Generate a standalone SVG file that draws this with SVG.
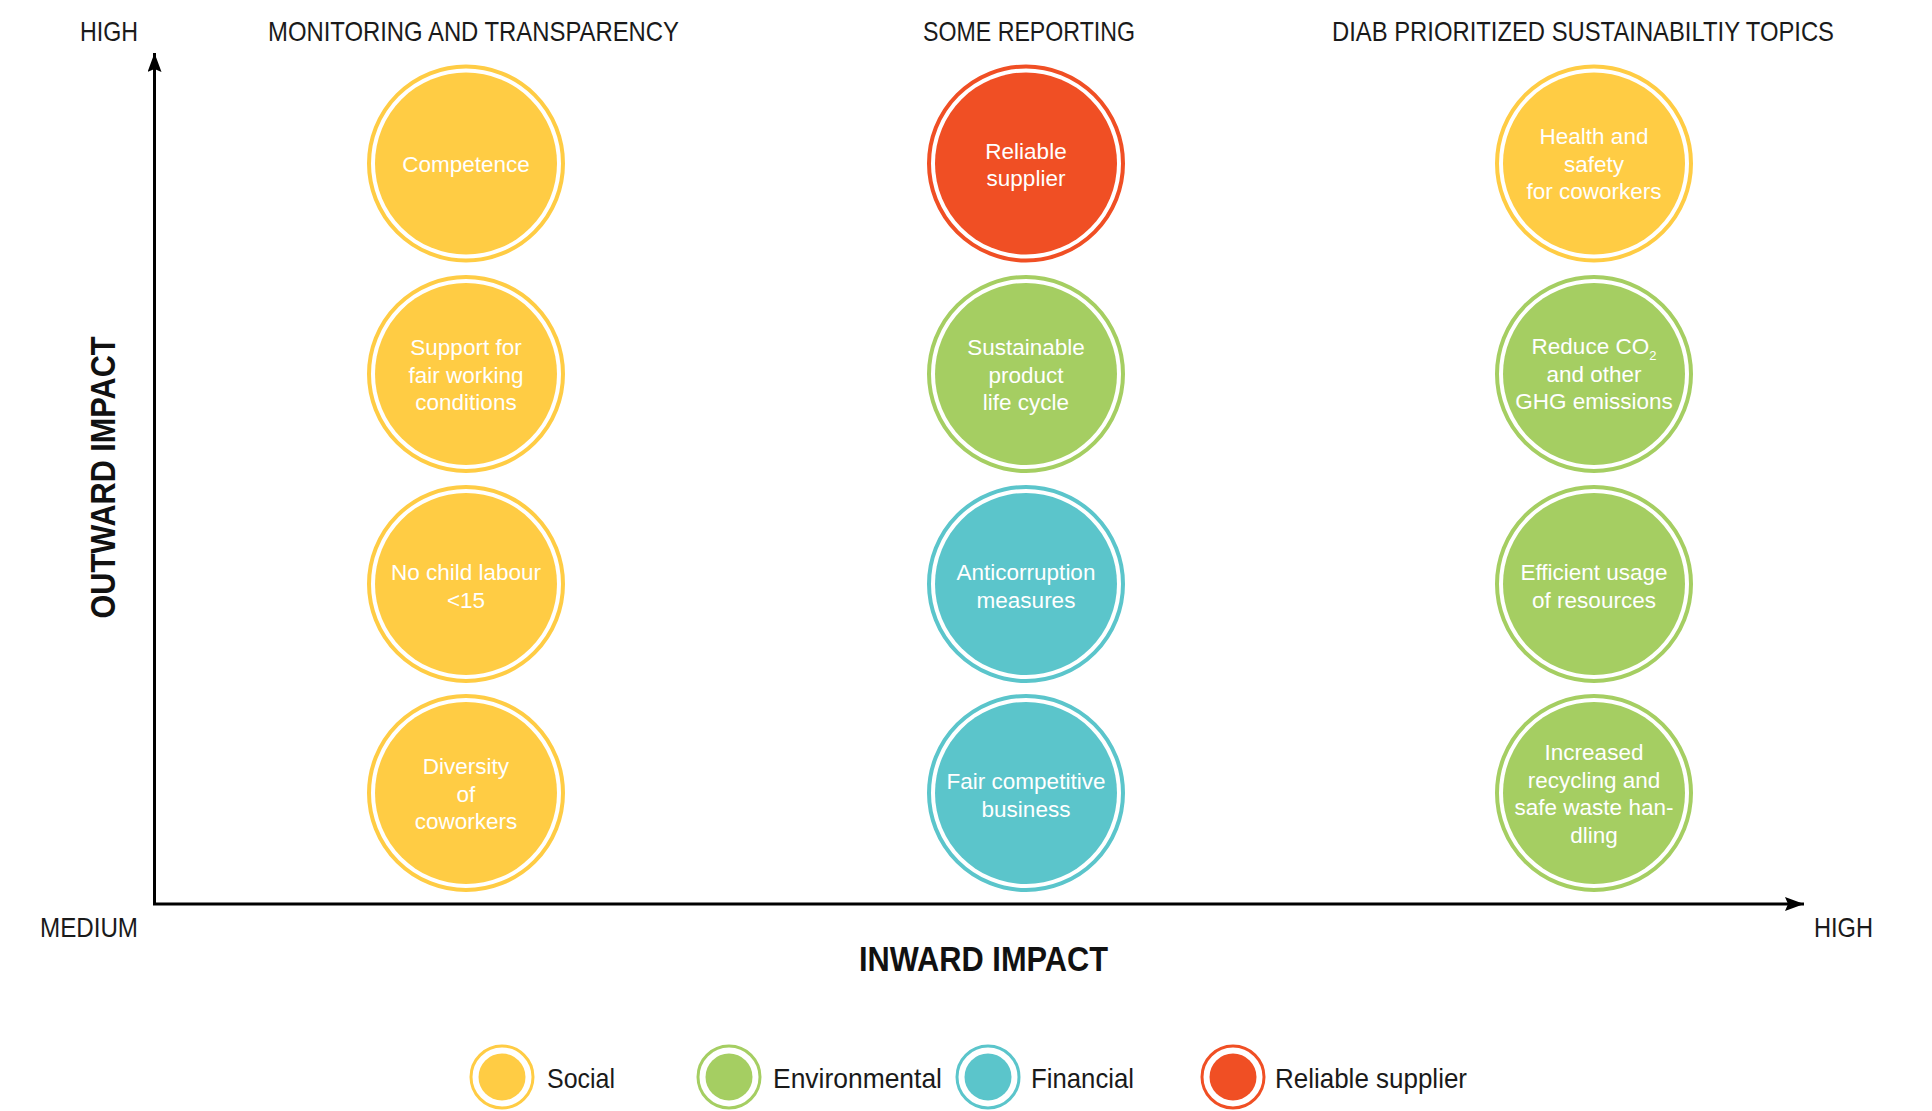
<svg xmlns="http://www.w3.org/2000/svg" width="1932" height="1111" viewBox="0 0 1932 1111">
<style>
.hdr{font-family:"Liberation Sans",Arial,sans-serif;font-size:28px;fill:#1a1a1a;}
.ttl{font-family:"Liberation Sans",Arial,sans-serif;font-size:35px;font-weight:bold;fill:#111;}
.lbl{font-family:"Liberation Sans",Arial,sans-serif;font-size:22.5px;fill:#fff;text-anchor:middle;}
.leg{font-family:"Liberation Sans",Arial,sans-serif;font-size:28px;fill:#1a1a1a;}
.ring{fill:none;stroke-width:4;}
.lring{fill:none;stroke-width:3;}
.soc .ring,.soc .lring{stroke:#FFCC44;} .soc .fill{fill:#FFCC44;}
.env .ring,.env .lring{stroke:#A5CE62;} .env .fill{fill:#A5CE62;}
.fin .ring,.fin .lring{stroke:#5BC5CB;} .fin .fill{fill:#5BC5CB;}
.rel .ring,.rel .lring{stroke:#F04F24;} .rel .fill{fill:#F04F24;}
.axis{stroke:#000;stroke-width:3;fill:none;}
</style>
<defs>
<marker id="arr" markerUnits="userSpaceOnUse" markerWidth="20" markerHeight="15" refX="19" refY="7" orient="auto">
<path d="M0,0 L19,7 L0,14 L3,7 z" fill="#000"/>
</marker>
</defs>
<rect width="1932" height="1111" fill="#fff"/>

<g id="headers">
<text class="hdr" x="80" y="41" textLength="58" lengthAdjust="spacingAndGlyphs">HIGH</text>
<text class="hdr" x="268" y="41" textLength="411" lengthAdjust="spacingAndGlyphs">MONITORING AND TRANSPARENCY</text>
<text class="hdr" x="923" y="41" textLength="212" lengthAdjust="spacingAndGlyphs">SOME REPORTING</text>
<text class="hdr" x="1332" y="41" textLength="502" lengthAdjust="spacingAndGlyphs">DIAB PRIORITIZED SUSTAINABILTIY TOPICS</text>
<text class="hdr" x="40" y="937" textLength="98" lengthAdjust="spacingAndGlyphs">MEDIUM</text>
<text class="hdr" x="1814" y="937" textLength="59" lengthAdjust="spacingAndGlyphs">HIGH</text>
<text class="ttl" x="859" y="971" textLength="249" lengthAdjust="spacingAndGlyphs">INWARD IMPACT</text>
<text class="ttl" transform="translate(115,477.5) rotate(-90)" x="0" y="0" text-anchor="middle" textLength="282" lengthAdjust="spacingAndGlyphs">OUTWARD IMPACT</text>
</g>

<g id="connectors">
<path class="axis" d="M154.5,904 L154.5,53" marker-end="url(#arr)"/>
<path class="axis" d="M153,904 L1804,904" marker-end="url(#arr)"/>
</g>

<g id="n-competence" class="soc">
<circle class="ring" cx="466" cy="163.5" r="97"/><circle class="fill" cx="466" cy="163.5" r="91"/>
<text class="lbl" x="466" y="172">Competence</text>
</g>
<g id="n-fair-working" class="soc">
<circle class="ring" cx="466" cy="374" r="97"/><circle class="fill" cx="466" cy="374" r="91"/>
<text class="lbl" x="466" y="355">Support for</text>
<text class="lbl" x="466" y="382.5">fair working</text>
<text class="lbl" x="466" y="410">conditions</text>
</g>
<g id="n-child-labour" class="soc">
<circle class="ring" cx="466" cy="584" r="97"/><circle class="fill" cx="466" cy="584" r="91"/>
<text class="lbl" x="466" y="580">No child labour</text>
<text class="lbl" x="466" y="607.5">&lt;15</text>
</g>
<g id="n-diversity" class="soc">
<circle class="ring" cx="466" cy="793" r="97"/><circle class="fill" cx="466" cy="793" r="91"/>
<text class="lbl" x="466" y="774">Diversity</text>
<text class="lbl" x="466" y="801.5">of</text>
<text class="lbl" x="466" y="829">coworkers</text>
</g>

<g id="n-reliable" class="rel">
<circle class="ring" cx="1026" cy="163.5" r="97"/><circle class="fill" cx="1026" cy="163.5" r="91"/>
<text class="lbl" x="1026" y="158.5">Reliable</text>
<text class="lbl" x="1026" y="186">supplier</text>
</g>
<g id="n-sustainable" class="env">
<circle class="ring" cx="1026" cy="374" r="97"/><circle class="fill" cx="1026" cy="374" r="91"/>
<text class="lbl" x="1026" y="355">Sustainable</text>
<text class="lbl" x="1026" y="382.5">product</text>
<text class="lbl" x="1026" y="410">life cycle</text>
</g>
<g id="n-anticorruption" class="fin">
<circle class="ring" cx="1026" cy="584" r="97"/><circle class="fill" cx="1026" cy="584" r="91"/>
<text class="lbl" x="1026" y="580">Anticorruption</text>
<text class="lbl" x="1026" y="607.5">measures</text>
</g>
<g id="n-fair-competitive" class="fin">
<circle class="ring" cx="1026" cy="793" r="97"/><circle class="fill" cx="1026" cy="793" r="91"/>
<text class="lbl" x="1026" y="789">Fair competitive</text>
<text class="lbl" x="1026" y="816.5">business</text>
</g>

<g id="n-health" class="soc">
<circle class="ring" cx="1594" cy="163.5" r="97"/><circle class="fill" cx="1594" cy="163.5" r="91"/>
<text class="lbl" x="1594" y="144">Health and</text>
<text class="lbl" x="1594" y="171.5">safety</text>
<text class="lbl" x="1594" y="199">for coworkers</text>
</g>
<g id="n-co2" class="env">
<circle class="ring" cx="1594" cy="374" r="97"/><circle class="fill" cx="1594" cy="374" r="91"/>
<text class="lbl" x="1594" y="354">Reduce CO<tspan font-size="13" dy="6">2</tspan></text>
<text class="lbl" x="1594" y="381.5">and other</text>
<text class="lbl" x="1594" y="409">GHG emissions</text>
</g>
<g id="n-efficient" class="env">
<circle class="ring" cx="1594" cy="584" r="97"/><circle class="fill" cx="1594" cy="584" r="91"/>
<text class="lbl" x="1594" y="580">Efficient usage</text>
<text class="lbl" x="1594" y="607.5">of resources</text>
</g>
<g id="n-recycling" class="env">
<circle class="ring" cx="1594" cy="793" r="97"/><circle class="fill" cx="1594" cy="793" r="91"/>
<text class="lbl" x="1594" y="760">Increased</text>
<text class="lbl" x="1594" y="787.5">recycling and</text>
<text class="lbl" x="1594" y="815">safe waste han-</text>
<text class="lbl" x="1594" y="842.5">dling</text>
</g>

<g id="legend">
<g id="leg-social" class="soc">
<circle class="lring" cx="502" cy="1077" r="31"/><circle class="fill" cx="502" cy="1077" r="23.5"/>
<text class="leg" x="547" y="1088" textLength="68" lengthAdjust="spacingAndGlyphs">Social</text>
</g>
<g id="leg-env" class="env">
<circle class="lring" cx="729" cy="1077" r="31"/><circle class="fill" cx="729" cy="1077" r="23.5"/>
<text class="leg" x="773" y="1088" textLength="169" lengthAdjust="spacingAndGlyphs">Environmental</text>
</g>
<g id="leg-fin" class="fin">
<circle class="lring" cx="988" cy="1077" r="31"/><circle class="fill" cx="988" cy="1077" r="23.5"/>
<text class="leg" x="1031" y="1088" textLength="103" lengthAdjust="spacingAndGlyphs">Financial</text>
</g>
<g id="leg-rel" class="rel">
<circle class="lring" cx="1233" cy="1077" r="31"/><circle class="fill" cx="1233" cy="1077" r="23.5"/>
<text class="leg" x="1275" y="1088" textLength="192" lengthAdjust="spacingAndGlyphs">Reliable supplier</text>
</g>
</g>
</svg>
